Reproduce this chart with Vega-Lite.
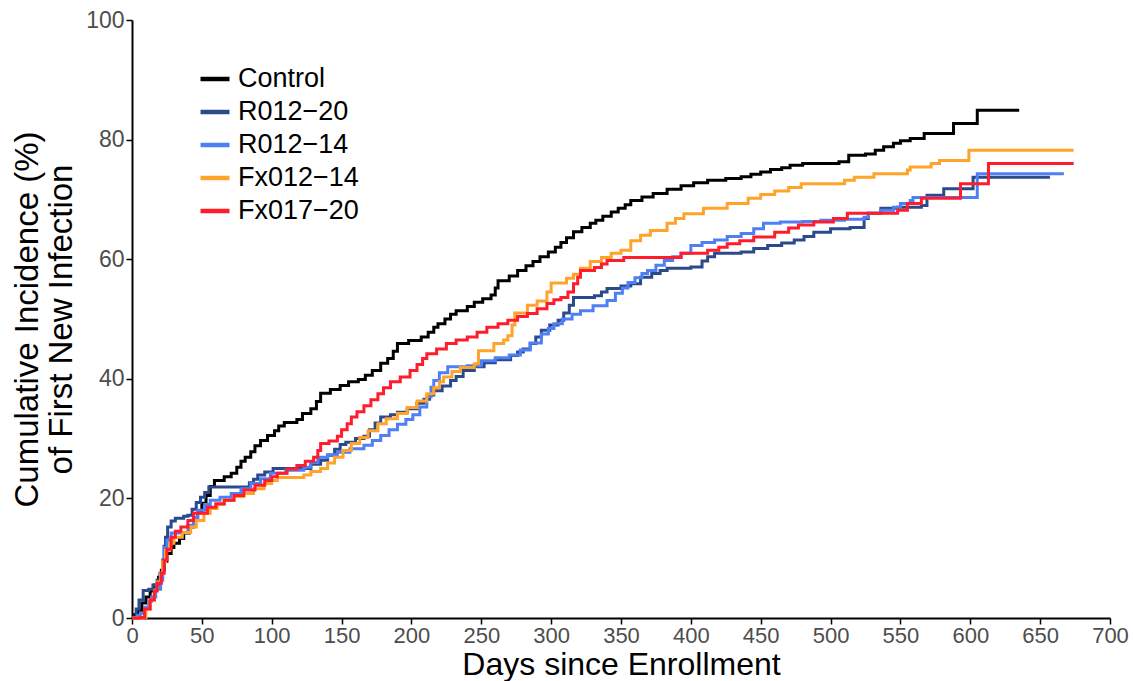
{
  "$schema": "https://vega.github.io/schema/vega-lite/v6.json",
  "width": 978,
  "height": 598,
  "autosize": {"type": "none"},
  "padding": {"left": 132, "top": 20, "right": 23, "bottom": 63},
  "background": "white",
  "config": {"view": {"stroke": null}, "font": "Liberation Sans"},
  "datasets": {
    "curves": [
      {"group":"Control","day":0,"pct":0},{"group":"Control","day":2,"pct":0.6},{"group":"Control","day":4,"pct":1.3},{"group":"Control","day":7,"pct":2.5},{"group":"Control","day":10,"pct":3.5},{"group":"Control","day":13,"pct":4.5},{"group":"Control","day":16,"pct":5.5},{"group":"Control","day":19,"pct":6.8},{"group":"Control","day":21,"pct":8},{"group":"Control","day":23,"pct":9.5},{"group":"Control","day":25,"pct":10.8},{"group":"Control","day":28,"pct":11.8},{"group":"Control","day":30,"pct":12.5},{"group":"Control","day":34,"pct":13.3},{"group":"Control","day":37,"pct":14.2},{"group":"Control","day":41,"pct":15.2},{"group":"Control","day":44,"pct":16.5},{"group":"Control","day":47,"pct":17.6},{"group":"Control","day":50,"pct":19.2},{"group":"Control","day":53,"pct":20.5},{"group":"Control","day":56,"pct":22},{"group":"Control","day":59,"pct":23},{"group":"Control","day":66,"pct":23.6},{"group":"Control","day":71,"pct":24.2},{"group":"Control","day":75,"pct":25.2},{"group":"Control","day":78,"pct":26.2},{"group":"Control","day":81,"pct":26.9},{"group":"Control","day":85,"pct":27.8},{"group":"Control","day":88,"pct":28.8},{"group":"Control","day":92,"pct":29.7},{"group":"Control","day":97,"pct":30.5},{"group":"Control","day":102,"pct":31.3},{"group":"Control","day":105,"pct":32.1},{"group":"Control","day":109,"pct":32.7},{"group":"Control","day":118,"pct":33.2},{"group":"Control","day":122,"pct":34.2},{"group":"Control","day":128,"pct":35},{"group":"Control","day":132,"pct":36.2},{"group":"Control","day":135,"pct":37.6},{"group":"Control","day":142,"pct":38.2},{"group":"Control","day":149,"pct":38.9},{"group":"Control","day":155,"pct":39.5},{"group":"Control","day":162,"pct":39.9},{"group":"Control","day":167,"pct":40.6},{"group":"Control","day":172,"pct":41.4},{"group":"Control","day":178,"pct":42.6},{"group":"Control","day":183,"pct":43.4},{"group":"Control","day":187,"pct":44.6},{"group":"Control","day":190,"pct":45.9},{"group":"Control","day":198,"pct":46.4},{"group":"Control","day":207,"pct":47},{"group":"Control","day":212,"pct":47.8},{"group":"Control","day":216,"pct":48.6},{"group":"Control","day":219,"pct":49.2},{"group":"Control","day":224,"pct":50},{"group":"Control","day":228,"pct":50.8},{"group":"Control","day":232,"pct":51.4},{"group":"Control","day":240,"pct":52.1},{"group":"Control","day":245,"pct":52.8},{"group":"Control","day":251,"pct":53.4},{"group":"Control","day":257,"pct":54},{"group":"Control","day":260,"pct":55.2},{"group":"Control","day":262,"pct":56.4},{"group":"Control","day":270,"pct":57.2},{"group":"Control","day":276,"pct":58.1},{"group":"Control","day":282,"pct":58.9},{"group":"Control","day":287,"pct":59.6},{"group":"Control","day":292,"pct":60.4},{"group":"Control","day":298,"pct":61.2},{"group":"Control","day":303,"pct":62},{"group":"Control","day":307,"pct":62.8},{"group":"Control","day":311,"pct":63.6},{"group":"Control","day":316,"pct":64.6},{"group":"Control","day":322,"pct":65.3},{"group":"Control","day":328,"pct":66},{"group":"Control","day":332,"pct":66.5},{"group":"Control","day":337,"pct":67.2},{"group":"Control","day":343,"pct":67.9},{"group":"Control","day":348,"pct":68.5},{"group":"Control","day":353,"pct":69.1},{"group":"Control","day":357,"pct":69.8},{"group":"Control","day":365,"pct":70.4},{"group":"Control","day":373,"pct":71},{"group":"Control","day":383,"pct":71.7},{"group":"Control","day":393,"pct":72.3},{"group":"Control","day":402,"pct":72.8},{"group":"Control","day":412,"pct":73.2},{"group":"Control","day":425,"pct":73.5},{"group":"Control","day":436,"pct":73.8},{"group":"Control","day":443,"pct":74.2},{"group":"Control","day":450,"pct":74.6},{"group":"Control","day":457,"pct":75},{"group":"Control","day":465,"pct":75.3},{"group":"Control","day":471,"pct":75.7},{"group":"Control","day":480,"pct":76},{"group":"Control","day":506,"pct":76.3},{"group":"Control","day":513,"pct":77.4},{"group":"Control","day":525,"pct":77.6},{"group":"Control","day":532,"pct":78.2},{"group":"Control","day":538,"pct":78.8},{"group":"Control","day":545,"pct":79.4},{"group":"Control","day":550,"pct":79.8},{"group":"Control","day":557,"pct":80.2},{"group":"Control","day":567,"pct":81},{"group":"Control","day":588,"pct":82.7},{"group":"Control","day":605,"pct":84.9},{"group":"Control","day":635,"pct":84.9},

      {"group":"R012-20","day":0,"pct":0},{"group":"R012-20","day":3,"pct":1.5},{"group":"R012-20","day":5,"pct":3},{"group":"R012-20","day":8,"pct":4.6},{"group":"R012-20","day":12,"pct":4.8},{"group":"R012-20","day":15,"pct":5.5},{"group":"R012-20","day":18,"pct":6.3},{"group":"R012-20","day":20,"pct":7.5},{"group":"R012-20","day":22,"pct":9.7},{"group":"R012-20","day":23,"pct":12},{"group":"R012-20","day":24,"pct":13.5},{"group":"R012-20","day":25.5,"pct":15.2},{"group":"R012-20","day":28,"pct":16.2},{"group":"R012-20","day":31,"pct":16.7},{"group":"R012-20","day":37,"pct":17},{"group":"R012-20","day":40,"pct":17.2},{"group":"R012-20","day":43,"pct":18.2},{"group":"R012-20","day":46,"pct":19.3},{"group":"R012-20","day":49,"pct":20.2},{"group":"R012-20","day":52,"pct":21},{"group":"R012-20","day":55,"pct":21.9},{"group":"R012-20","day":80,"pct":21.9},{"group":"R012-20","day":84,"pct":22.6},{"group":"R012-20","day":87,"pct":23.2},{"group":"R012-20","day":90,"pct":23.9},{"group":"R012-20","day":95,"pct":24.4},{"group":"R012-20","day":101,"pct":25},{"group":"R012-20","day":122,"pct":25},{"group":"R012-20","day":128,"pct":25.7},{"group":"R012-20","day":135,"pct":26.4},{"group":"R012-20","day":140,"pct":27.2},{"group":"R012-20","day":145,"pct":28.2},{"group":"R012-20","day":149,"pct":29},{"group":"R012-20","day":153,"pct":29.4},{"group":"R012-20","day":160,"pct":30},{"group":"R012-20","day":166,"pct":30.4},{"group":"R012-20","day":170,"pct":31.5},{"group":"R012-20","day":174,"pct":32.6},{"group":"R012-20","day":178,"pct":33.6},{"group":"R012-20","day":185,"pct":34},{"group":"R012-20","day":190,"pct":34.4},{"group":"R012-20","day":197,"pct":35},{"group":"R012-20","day":204,"pct":35.9},{"group":"R012-20","day":209,"pct":36.6},{"group":"R012-20","day":213,"pct":37.3},{"group":"R012-20","day":216,"pct":38},{"group":"R012-20","day":222,"pct":38.8},{"group":"R012-20","day":228,"pct":39.7},{"group":"R012-20","day":232,"pct":40.4},{"group":"R012-20","day":237,"pct":41.4},{"group":"R012-20","day":245,"pct":42},{"group":"R012-20","day":252,"pct":42.7},{"group":"R012-20","day":260,"pct":43.2},{"group":"R012-20","day":271,"pct":43.9},{"group":"R012-20","day":276,"pct":44.5},{"group":"R012-20","day":280,"pct":45},{"group":"R012-20","day":285,"pct":45.9},{"group":"R012-20","day":289,"pct":47},{"group":"R012-20","day":293,"pct":48.1},{"group":"R012-20","day":299,"pct":49},{"group":"R012-20","day":305,"pct":49.8},{"group":"R012-20","day":309,"pct":51},{"group":"R012-20","day":313,"pct":52.3},{"group":"R012-20","day":316,"pct":53.6},{"group":"R012-20","day":331,"pct":53.9},{"group":"R012-20","day":336,"pct":54.5},{"group":"R012-20","day":340,"pct":55.1},{"group":"R012-20","day":350,"pct":55.5},{"group":"R012-20","day":357,"pct":55.9},{"group":"R012-20","day":364,"pct":57},{"group":"R012-20","day":372,"pct":57.6},{"group":"R012-20","day":378,"pct":58.1},{"group":"R012-20","day":383,"pct":58.5},{"group":"R012-20","day":400,"pct":58.7},{"group":"R012-20","day":408,"pct":59.7},{"group":"R012-20","day":412,"pct":60.4},{"group":"R012-20","day":417,"pct":61},{"group":"R012-20","day":436,"pct":61.2},{"group":"R012-20","day":445,"pct":61.8},{"group":"R012-20","day":455,"pct":62.3},{"group":"R012-20","day":465,"pct":62.7},{"group":"R012-20","day":474,"pct":63.2},{"group":"R012-20","day":481,"pct":63.8},{"group":"R012-20","day":488,"pct":64.5},{"group":"R012-20","day":500,"pct":65.1},{"group":"R012-20","day":514,"pct":65.3},{"group":"R012-20","day":524,"pct":66.8},{"group":"R012-20","day":527,"pct":67.7},{"group":"R012-20","day":536,"pct":68.5},{"group":"R012-20","day":548,"pct":68.7},{"group":"R012-20","day":565,"pct":69},{"group":"R012-20","day":569,"pct":70.7},{"group":"R012-20","day":581,"pct":71.8},{"group":"R012-20","day":602,"pct":73.7},{"group":"R012-20","day":657,"pct":73.7},

      {"group":"R012-14","day":0,"pct":0},{"group":"R012-14","day":4,"pct":0.4},{"group":"R012-14","day":6,"pct":0.8},{"group":"R012-14","day":9,"pct":1.8},{"group":"R012-14","day":12,"pct":2.8},{"group":"R012-14","day":14,"pct":3.5},{"group":"R012-14","day":17,"pct":4.8},{"group":"R012-14","day":20.5,"pct":6.3},{"group":"R012-14","day":22,"pct":9},{"group":"R012-14","day":23,"pct":11.8},{"group":"R012-14","day":25,"pct":13},{"group":"R012-14","day":28,"pct":14.2},{"group":"R012-14","day":37,"pct":14.3},{"group":"R012-14","day":40,"pct":15.5},{"group":"R012-14","day":44,"pct":16.8},{"group":"R012-14","day":47,"pct":18},{"group":"R012-14","day":52,"pct":19},{"group":"R012-14","day":56,"pct":19.7},{"group":"R012-14","day":63,"pct":20.2},{"group":"R012-14","day":71,"pct":20.8},{"group":"R012-14","day":78,"pct":21.6},{"group":"R012-14","day":85,"pct":22.5},{"group":"R012-14","day":92,"pct":23.3},{"group":"R012-14","day":99,"pct":24.2},{"group":"R012-14","day":110,"pct":24.7},{"group":"R012-14","day":123,"pct":25.2},{"group":"R012-14","day":128,"pct":26},{"group":"R012-14","day":133,"pct":26.9},{"group":"R012-14","day":140,"pct":27.3},{"group":"R012-14","day":147,"pct":27.7},{"group":"R012-14","day":156,"pct":28.3},{"group":"R012-14","day":166,"pct":28.9},{"group":"R012-14","day":172,"pct":29.7},{"group":"R012-14","day":178,"pct":30.5},{"group":"R012-14","day":184,"pct":31.5},{"group":"R012-14","day":190,"pct":32.4},{"group":"R012-14","day":196,"pct":33.2},{"group":"R012-14","day":201,"pct":34},{"group":"R012-14","day":206,"pct":35.3},{"group":"R012-14","day":211,"pct":37},{"group":"R012-14","day":214,"pct":38.6},{"group":"R012-14","day":216,"pct":39.7},{"group":"R012-14","day":220,"pct":41},{"group":"R012-14","day":226,"pct":42},{"group":"R012-14","day":240,"pct":42.2},{"group":"R012-14","day":250,"pct":43},{"group":"R012-14","day":260,"pct":43.5},{"group":"R012-14","day":270,"pct":44},{"group":"R012-14","day":278,"pct":44.8},{"group":"R012-14","day":285,"pct":46},{"group":"R012-14","day":293,"pct":47.5},{"group":"R012-14","day":298,"pct":48.4},{"group":"R012-14","day":302,"pct":49.2},{"group":"R012-14","day":308,"pct":50},{"group":"R012-14","day":315,"pct":50.8},{"group":"R012-14","day":321,"pct":51.4},{"group":"R012-14","day":330,"pct":52.2},{"group":"R012-14","day":340,"pct":53.1},{"group":"R012-14","day":346,"pct":54.3},{"group":"R012-14","day":351,"pct":55.2},{"group":"R012-14","day":355,"pct":56.1},{"group":"R012-14","day":360,"pct":56.9},{"group":"R012-14","day":365,"pct":57.6},{"group":"R012-14","day":369,"pct":58.1},{"group":"R012-14","day":375,"pct":59},{"group":"R012-14","day":381,"pct":59.8},{"group":"R012-14","day":387,"pct":60.4},{"group":"R012-14","day":393,"pct":61},{"group":"R012-14","day":400,"pct":62.3},{"group":"R012-14","day":408,"pct":62.8},{"group":"R012-14","day":417,"pct":63.2},{"group":"R012-14","day":426,"pct":63.8},{"group":"R012-14","day":436,"pct":64.3},{"group":"R012-14","day":445,"pct":65.1},{"group":"R012-14","day":452,"pct":66},{"group":"R012-14","day":464,"pct":66.2},{"group":"R012-14","day":480,"pct":66.3},{"group":"R012-14","day":493,"pct":66.5},{"group":"R012-14","day":510,"pct":66.7},{"group":"R012-14","day":524,"pct":67},{"group":"R012-14","day":527,"pct":67.7},{"group":"R012-14","day":536,"pct":68.2},{"group":"R012-14","day":545,"pct":68.7},{"group":"R012-14","day":550,"pct":69.3},{"group":"R012-14","day":557,"pct":69.8},{"group":"R012-14","day":559,"pct":70.3},{"group":"R012-14","day":603,"pct":70.3},{"group":"R012-14","day":605,"pct":74.3},{"group":"R012-14","day":667,"pct":74.3},

      {"group":"Fx012-14","day":0,"pct":0},{"group":"Fx012-14","day":8,"pct":0.1},{"group":"Fx012-14","day":10,"pct":1.5},{"group":"Fx012-14","day":13,"pct":3},{"group":"Fx012-14","day":16,"pct":4.6},{"group":"Fx012-14","day":18,"pct":6},{"group":"Fx012-14","day":20.5,"pct":7.5},{"group":"Fx012-14","day":22,"pct":9.5},{"group":"Fx012-14","day":24,"pct":11.3},{"group":"Fx012-14","day":27,"pct":12.5},{"group":"Fx012-14","day":30,"pct":13.5},{"group":"Fx012-14","day":36,"pct":14.3},{"group":"Fx012-14","day":42,"pct":15.2},{"group":"Fx012-14","day":46,"pct":16.3},{"group":"Fx012-14","day":51.5,"pct":17.5},{"group":"Fx012-14","day":56,"pct":18.3},{"group":"Fx012-14","day":61,"pct":19},{"group":"Fx012-14","day":66,"pct":19.7},{"group":"Fx012-14","day":73,"pct":20.3},{"group":"Fx012-14","day":80,"pct":20.8},{"group":"Fx012-14","day":87,"pct":21.6},{"group":"Fx012-14","day":94.6,"pct":22.5},{"group":"Fx012-14","day":100,"pct":23},{"group":"Fx012-14","day":104,"pct":23.5},{"group":"Fx012-14","day":123,"pct":23.9},{"group":"Fx012-14","day":128,"pct":24.5},{"group":"Fx012-14","day":135,"pct":25},{"group":"Fx012-14","day":140,"pct":25.9},{"group":"Fx012-14","day":145,"pct":26.9},{"group":"Fx012-14","day":151,"pct":28},{"group":"Fx012-14","day":157,"pct":29.2},{"group":"Fx012-14","day":163,"pct":30.2},{"group":"Fx012-14","day":169,"pct":31.3},{"group":"Fx012-14","day":176,"pct":32.5},{"group":"Fx012-14","day":182,"pct":33.3},{"group":"Fx012-14","day":190,"pct":34.2},{"group":"Fx012-14","day":197,"pct":35.2},{"group":"Fx012-14","day":204,"pct":36.3},{"group":"Fx012-14","day":211,"pct":37.5},{"group":"Fx012-14","day":216,"pct":38.5},{"group":"Fx012-14","day":220,"pct":39.5},{"group":"Fx012-14","day":223,"pct":40.3},{"group":"Fx012-14","day":229,"pct":41.2},{"group":"Fx012-14","day":235,"pct":41.9},{"group":"Fx012-14","day":245,"pct":42.5},{"group":"Fx012-14","day":248,"pct":44.7},{"group":"Fx012-14","day":259,"pct":45.9},{"group":"Fx012-14","day":266,"pct":46.5},{"group":"Fx012-14","day":269,"pct":47.2},{"group":"Fx012-14","day":272,"pct":49},{"group":"Fx012-14","day":274,"pct":51},{"group":"Fx012-14","day":283,"pct":52.3},{"group":"Fx012-14","day":290,"pct":53},{"group":"Fx012-14","day":297,"pct":54.5},{"group":"Fx012-14","day":300,"pct":56},{"group":"Fx012-14","day":311,"pct":56.8},{"group":"Fx012-14","day":316,"pct":57.5},{"group":"Fx012-14","day":321,"pct":58.5},{"group":"Fx012-14","day":328,"pct":59.6},{"group":"Fx012-14","day":336,"pct":60.3},{"group":"Fx012-14","day":343,"pct":61},{"group":"Fx012-14","day":350,"pct":61.5},{"group":"Fx012-14","day":357,"pct":63.1},{"group":"Fx012-14","day":364,"pct":64},{"group":"Fx012-14","day":371,"pct":64.8},{"group":"Fx012-14","day":383,"pct":66},{"group":"Fx012-14","day":389,"pct":66.8},{"group":"Fx012-14","day":395,"pct":67.6},{"group":"Fx012-14","day":409,"pct":68.5},{"group":"Fx012-14","day":426,"pct":69.3},{"group":"Fx012-14","day":441,"pct":70.2},{"group":"Fx012-14","day":450,"pct":70.8},{"group":"Fx012-14","day":460,"pct":71.4},{"group":"Fx012-14","day":470,"pct":72},{"group":"Fx012-14","day":479,"pct":72.6},{"group":"Fx012-14","day":510,"pct":73.2},{"group":"Fx012-14","day":517,"pct":73.7},{"group":"Fx012-14","day":531,"pct":74.3},{"group":"Fx012-14","day":555,"pct":74.9},{"group":"Fx012-14","day":557,"pct":75.4},{"group":"Fx012-14","day":572,"pct":76},{"group":"Fx012-14","day":578,"pct":76.5},{"group":"Fx012-14","day":599,"pct":78.2},{"group":"Fx012-14","day":674,"pct":78.2},

      {"group":"Fx017-20","day":0,"pct":0},{"group":"Fx017-20","day":6,"pct":0.1},{"group":"Fx017-20","day":9,"pct":1.5},{"group":"Fx017-20","day":13,"pct":3},{"group":"Fx017-20","day":16,"pct":4.5},{"group":"Fx017-20","day":18,"pct":5.8},{"group":"Fx017-20","day":21,"pct":7.5},{"group":"Fx017-20","day":23,"pct":9.7},{"group":"Fx017-20","day":25,"pct":11.5},{"group":"Fx017-20","day":28,"pct":13.5},{"group":"Fx017-20","day":31,"pct":14.5},{"group":"Fx017-20","day":35,"pct":15.2},{"group":"Fx017-20","day":40,"pct":16.3},{"group":"Fx017-20","day":44,"pct":17.5},{"group":"Fx017-20","day":54,"pct":18.5},{"group":"Fx017-20","day":60,"pct":19.1},{"group":"Fx017-20","day":66,"pct":19.7},{"group":"Fx017-20","day":73,"pct":20.5},{"group":"Fx017-20","day":80,"pct":21.4},{"group":"Fx017-20","day":88,"pct":22.2},{"group":"Fx017-20","day":95,"pct":23},{"group":"Fx017-20","day":100,"pct":23.6},{"group":"Fx017-20","day":104,"pct":24.2},{"group":"Fx017-20","day":111,"pct":24.9},{"group":"Fx017-20","day":118,"pct":25.5},{"group":"Fx017-20","day":124,"pct":26.2},{"group":"Fx017-20","day":130,"pct":26.9},{"group":"Fx017-20","day":133,"pct":28},{"group":"Fx017-20","day":135,"pct":29.2},{"group":"Fx017-20","day":141,"pct":29.6},{"group":"Fx017-20","day":147,"pct":30.4},{"group":"Fx017-20","day":150,"pct":31.5},{"group":"Fx017-20","day":154,"pct":32.5},{"group":"Fx017-20","day":157,"pct":33.6},{"group":"Fx017-20","day":161,"pct":34.5},{"group":"Fx017-20","day":166,"pct":35.5},{"group":"Fx017-20","day":171,"pct":36.5},{"group":"Fx017-20","day":176,"pct":37.5},{"group":"Fx017-20","day":180,"pct":38.5},{"group":"Fx017-20","day":185,"pct":39.5},{"group":"Fx017-20","day":192,"pct":40.3},{"group":"Fx017-20","day":199,"pct":41.4},{"group":"Fx017-20","day":204,"pct":42.4},{"group":"Fx017-20","day":208,"pct":43.4},{"group":"Fx017-20","day":211,"pct":44.2},{"group":"Fx017-20","day":218,"pct":45},{"group":"Fx017-20","day":225,"pct":45.9},{"group":"Fx017-20","day":232,"pct":46.5},{"group":"Fx017-20","day":240,"pct":47},{"group":"Fx017-20","day":247,"pct":47.8},{"group":"Fx017-20","day":254,"pct":48.6},{"group":"Fx017-20","day":262,"pct":49.2},{"group":"Fx017-20","day":269,"pct":49.8},{"group":"Fx017-20","day":276,"pct":50.4},{"group":"Fx017-20","day":283,"pct":50.9},{"group":"Fx017-20","day":290,"pct":51.7},{"group":"Fx017-20","day":297,"pct":52.6},{"group":"Fx017-20","day":302,"pct":53.2},{"group":"Fx017-20","day":307,"pct":53.6},{"group":"Fx017-20","day":312,"pct":54.5},{"group":"Fx017-20","day":316,"pct":55.9},{"group":"Fx017-20","day":319,"pct":57},{"group":"Fx017-20","day":321,"pct":58.1},{"group":"Fx017-20","day":331,"pct":58.6},{"group":"Fx017-20","day":336,"pct":59.2},{"group":"Fx017-20","day":340,"pct":59.8},{"group":"Fx017-20","day":352,"pct":60.3},{"group":"Fx017-20","day":380,"pct":60.3},{"group":"Fx017-20","day":393,"pct":61},{"group":"Fx017-20","day":412,"pct":61.5},{"group":"Fx017-20","day":420,"pct":62},{"group":"Fx017-20","day":426,"pct":62.6},{"group":"Fx017-20","day":435,"pct":63.1},{"group":"Fx017-20","day":445,"pct":63.7},{"group":"Fx017-20","day":460,"pct":64.5},{"group":"Fx017-20","day":470,"pct":65.2},{"group":"Fx017-20","day":477,"pct":65.7},{"group":"Fx017-20","day":488,"pct":66.2},{"group":"Fx017-20","day":502,"pct":66.8},{"group":"Fx017-20","day":512,"pct":67.7},{"group":"Fx017-20","day":548,"pct":68.2},{"group":"Fx017-20","day":555,"pct":69.3},{"group":"Fx017-20","day":565,"pct":70.2},{"group":"Fx017-20","day":593,"pct":72.6},{"group":"Fx017-20","day":613,"pct":76},{"group":"Fx017-20","day":674,"pct":76}
    ]
  },
  "data": {"name": "curves"},
  "mark": {"type": "line", "interpolate": "step-after", "strokeWidth": 3, "strokeCap": "butt", "strokeJoin": "miter"},
  "encoding": {
    "x": {
      "field": "day", "type": "quantitative",
      "scale": {"domain": [0, 700], "nice": false},
      "axis": {
        "values": [0,50,100,150,200,250,300,350,400,450,500,550,600,650,700],
        "grid": false, "domainColor": "black", "domainWidth": 2,
        "tickColor": "black", "tickWidth": 1.5, "tickSize": 6,
        "labelFontSize": 22, "labelColor": "#4D4D4D", "labelPadding": 1,
        "labelFlush": false, "labelOverlap": false,
        "title": "Days since Enrollment", "titleFontSize": 32, "titleFontWeight": "normal",
        "titleColor": "black", "titleBaseline": "alphabetic", "titleY": 56, "titleX": 489
      }
    },
    "y": {
      "field": "pct", "type": "quantitative",
      "scale": {"domain": [0, 100], "nice": false},
      "axis": {
        "values": [0,20,40,60,80,100],
        "grid": false, "domainColor": "black", "domainWidth": 2,
        "tickColor": "black", "tickWidth": 1.5, "tickSize": 6,
        "labelFontSize": 23, "labelColor": "#4D4D4D", "labelPadding": 2,
        "labelFlush": false, "labelOverlap": false,
        "title": ["Cumulative Incidence (%)", "of First New Infection"],
        "titleFontSize": 33, "titleFontWeight": "normal", "titleColor": "black",
        "titleAngle": -90, "titleBaseline": "alphabetic", "titleAlign": "center",
        "titleX": -95, "titleY": 299, "titleLineHeight": 34
      }
    },
    "color": {
      "field": "group", "type": "nominal",
      "scale": {
        "domain": ["Control", "R012-20", "R012-14", "Fx012-14", "Fx017-20"],
        "range": ["#000000", "#2B4A8B", "#4E7FF5", "#FFA42B", "#FF1C2C"]
      },
      "legend": {
        "orient": "none", "legendX": 66, "legendY": 42, "title": null,
        "symbolType": "stroke", "symbolStrokeWidth": 4.5, "symbolSize": 841,
        "labelFontSize": 27, "labelColor": "black", "labelOffset": 6,
        "rowPadding": 3, "labelExpr": "replace(datum.label, '-', '\u2212')"
      }
    }
  }
}
